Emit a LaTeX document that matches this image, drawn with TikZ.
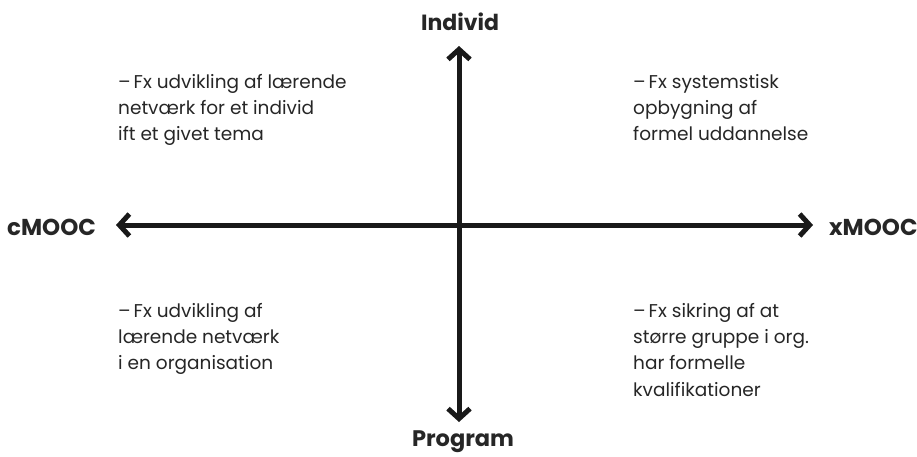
\documentclass[tikz,border=0pt]{standalone}
\usepackage{fontspec}
\setmainfont{Poppins}
\usetikzlibrary{arrows.meta}
\begin{document}
\begin{tikzpicture}[x=1pt,y=-1pt,
  axis/.style={line width=5pt,draw=black!90,{Straight Barb[length=10pt,width=22pt]}-{Straight Barb[length=10pt,width=22pt]}},
  lbl/.style={text=black!85,inner sep=0pt},
  note/.style={font=\fontsize{18.5}{26.3}\selectfont,text=black!85,align=left,anchor=north west,inner sep=0pt}]
\useasboundingbox (0,0) rectangle (917,456);
\coordinate (L) at (116,225);
\coordinate (R) at (813,225);
\coordinate (T) at (459,46);
\coordinate (B) at (459,422);
\draw[axis] (L) -- (R);
\draw[axis] (T) -- (B);
\node[lbl,font=\fontsize{22}{24}\selectfont\bfseries] (ind) at (460,22) {Individ};
\node[lbl,font=\fontsize{22.5}{26}\selectfont\bfseries,anchor=base] (prog) at (463,446) {Program};
\node[lbl,font=\fontsize{23}{26}\selectfont\bfseries,anchor=west] (c) at (7,227) {cMOOC};
\node[lbl,font=\fontsize{23}{26}\selectfont\bfseries,anchor=west] (x) at (829,227) {xMOOC};
\node[note] (tl) at (118,74) {–\kern3pt Fx udvikling af lærende\\netværk for et individ\\ift et givet tema};
\node[note] (tr) at (633,74) {–\kern3pt Fx systemstisk\\opbygning af\\formel uddannelse};
\node[note] (bl) at (118,303) {–\kern3pt Fx udvikling af\\lærende netværk\\i en organisation};
\node[note] (br) at (633,303) {–\kern3pt Fx sikring af at\\større gruppe i org.\\har formelle\\kvalifikationer};
\end{tikzpicture}
\end{document}
